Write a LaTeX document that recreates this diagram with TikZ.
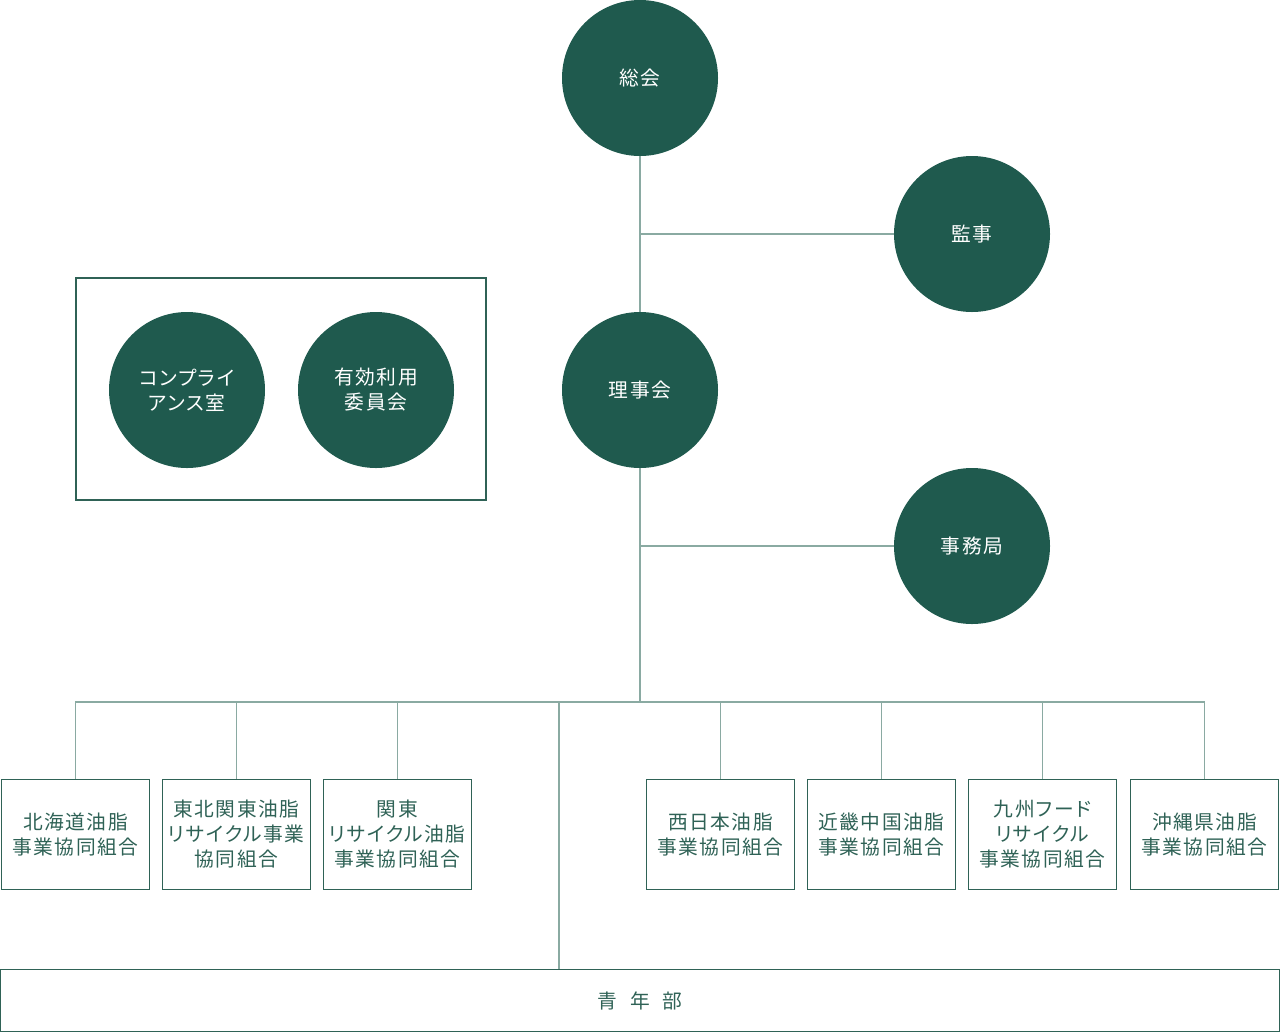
\documentclass[tikz,border=0pt]{standalone}
\usepackage{fontspec}
\setmainfont{Noto Sans CJK JP}[LetterSpace=8,RawFeature=+palt]
\usetikzlibrary{positioning}
\definecolor{darkgreen}{HTML}{1F5A4E}
\definecolor{linegreen}{HTML}{8AAAA2}
\definecolor{boxgreen}{HTML}{2F6256}
\begin{document}
\begin{tikzpicture}[%
    x=0.75pt,
    y=-0.75pt,
    font=\fontsize{14.8pt}{18.75pt}\selectfont,
    body/.style={%
      circle,
      fill=darkgreen,
      text=white,
      minimum size=117pt,
      inner sep=0pt,
      align=center
    },
    member/.style={%
      rectangle,
      draw=boxgreen,
      line width=0.9pt,
      text=boxgreen,
      minimum width=111pt,
      minimum height=83pt,
      inner sep=0pt,
      align=center
    },
    link/.style={%
      draw=linegreen,
      line width=1pt
    }
  ]
    \useasboundingbox (0,0) rectangle (1280,1033);

    % circles
    \node[body] (sokai)   at (640,78)  {総会};
    \node[body] (kanji)   at (972,234) {監事};
    \node[body] (rijikai) at (640,390) {理事会};
    \node[body] (jimu)    at (972,546) {事務局};
    \node[body] (comp)    at (187,390) {コンプライ\\アンス室};
    \node[body] (yuko)    at (376,390) {有効利用\\委員会};
    \draw[boxgreen, line width=0.9pt] (76,278) rectangle (486,500);

    % member unions
    \node[member] (hokkaido) at (75.5,834.5)   {北海道油脂\\事業協同組合};
    \node[member] (tohoku)   at (236.5,834.5)  {東北関東油脂\\リサイクル事業\\協同組合};
    \node[member] (kanto)    at (397.5,834.5)  {関東\\リサイクル油脂\\事業協同組合};
    \node[member] (nishi)    at (720.5,834.5)  {西日本油脂\\事業協同組合};
    \node[member] (kinki)    at (881.5,834.5)  {近畿中国油脂\\事業協同組合};
    \node[member] (kyushu)   at (1042.5,834.5) {九州フード\\リサイクル\\事業協同組合};
    \node[member] (okinawa)  at (1204.5,834.5) {沖縄県油脂\\事業協同組合};
    \node[member, minimum width=959pt, minimum height=47pt] (seinen) at (640,1000.5)
      {青\hspace{0.65em}年\hspace{0.65em}部};

    \coordinate (bus)  at (640,702);
    \coordinate (drop) at (559,702);

    \path[link] (sokai) -- (rijikai)
          (kanji) -- (kanji -| sokai)
          (jimu) -- (jimu -| rijikai)
          (rijikai) -- (bus)
          (hokkaido.north) |- (okinawa.north |- bus) -- (okinawa.north)
          (tohoku.north) -- (tohoku.north |- bus)
          (kanto.north) -- (kanto.north |- bus)
          (nishi.north) -- (nishi.north |- bus)
          (kinki.north) -- (kinki.north |- bus)
          (kyushu.north) -- (kyushu.north |- bus)
          (drop) -- (drop |- seinen.north);
  \end{tikzpicture}
\end{document}
